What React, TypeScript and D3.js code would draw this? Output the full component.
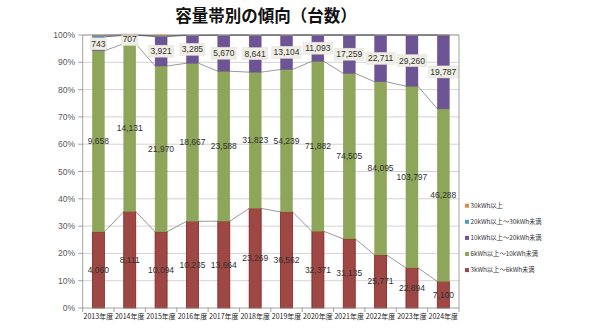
import React from "react";
import * as d3 from "d3";

const years = ["2013年度","2014年度","2015年度","2016年度","2017年度","2018年度","2019年度","2020年度","2021年度","2022年度","2023年度","2024年度"];
const s3to6 = [4060, 8111, 10094, 10235, 13664, 23269, 36562, 32371, 31135, 25771, 22894, 7100];
const s6to10 = [9658, 14131, 21970, 18667, 23588, 31823, 54239, 71882, 74505, 84095, 103797, 46288];
const s10to20 = [743, 707, 3921, 3285, 5670, 8641, 13104, 11093, 17259, 22711, 29260, 19787];
const s20to30 = [90, 20, 60, 40, 20, 30, 20, 15, 10, 10, 10, 5];
const s30plus = [10, 5, 120, 10, 10, 10, 10, 5, 5, 5, 5, 5];
const seriesNames = ["3kWh以上～6kWh未満", "6kWh以上～10kWh未満", "10kWh以上～20kWh未満", "20kWh以上～30kWh未満", "30kWh以上"];
const yTicks = [0, 10, 20, 30, 40, 50, 60, 70, 80, 90, 100];

const colors = ["#9e4846", "#8ea65a", "#6d5495", "#4a9fc0", "#e8883e"];
const strokes = ["#8a1f1a", "#7f9a4a", "#5d4585", "#3f8fae", "#d07830"];

export default function App() {
  const W = 590, H = 331;
  const left = 82.7, right = 459, top = 35, bottom = 308;
  const series = [s3to6, s6to10, s10to20, s20to30, s30plus];
  const x = d3.scaleBand<string>().domain(years).range([left, right]).paddingInner(0).paddingOuter(0);
  const y = d3.scaleLinear().domain([0, 100]).range([bottom, top]);
  const barW = 12;

  const rows = years.map((yr, i) => {
    const vals = series.map((s) => s[i]);
    const total = d3.sum(vals);
    let acc = 0;
    const segs = vals.map((v, k) => {
      const y0 = acc;
      acc += (v / total) * 100;
      return { k, v, y0, y1: acc };
    });
    return { yr, i, segs };
  });

  const fmt = d3.format(",");
  const labelFont = "'Liberation Sans', Arial, sans-serif";

  return (
    <svg width={W} height={H} style={{ position: "absolute", left: 0, top: 0, background: "#fff" }}>
      <text x={266} y={22} textAnchor="middle" fontFamily="'Noto Sans CJK JP', sans-serif" fontWeight="bold" fontSize={16.5} fill="#111">容量帯別の傾向（台数）</text>

      {yTicks.map((t) => (
        <g key={t}>
          {t > 0 && <line x1={left} x2={right} y1={y(t)} y2={y(t)} stroke="#c8c8c8" strokeWidth={0.8} />}
          <line x1={left - 4.5} x2={left} y1={y(t)} y2={y(t)} stroke="#8c8c8c" strokeWidth={0.8} />
          <text x={75} y={y(t) + 3} textAnchor="end" fontFamily={labelFont} fontSize={8.5} fill="#595959">{t}%</text>
        </g>
      ))}

      {/* series lines */}
      {[0, 1, 2, 3].map((k) => (
        <g key={"sl" + k}>
          {rows.slice(0, -1).map((r, i) => {
            const cx0 = (x(r.yr) as number) + x.bandwidth() / 2 + barW / 2;
            const nx = rows[i + 1];
            const cx1 = (x(nx.yr) as number) + x.bandwidth() / 2 - barW / 2;
            return <line key={i} x1={cx0} x2={cx1} y1={y(r.segs[k].y1)} y2={y(nx.segs[k].y1)} stroke={k >= 2 ? "#444" : "#808080"} strokeWidth={0.8} />;
          })}
        </g>
      ))}

      {rows.map((r) => {
        const cx = (x(r.yr) as number) + x.bandwidth() / 2;
        return (
          <g key={r.yr}>
            {r.segs.map((s) => (
              <rect key={s.k} x={cx - barW / 2} width={barW} y={y(s.y1)} height={Math.max(0, y(s.y0) - y(s.y1))} fill={colors[s.k]} stroke={strokes[s.k]} strokeWidth={s.k === 0 ? 0.8 : 0.4} />
            ))}
          </g>
        );
      })}

      {/* labels */}
      {rows.map((r) => {
        const cx = (x(r.yr) as number) + x.bandwidth() / 2;
        return (
          <g key={"lb" + r.yr} fontFamily={labelFont} fontSize={8.5} fill="#303030">
            {[0, 1].map((k) => {
              const s = r.segs[k];
              return <text key={k} x={cx} y={y((s.y0 + s.y1) / 2) + 3} textAnchor="middle">{fmt(s.v)}</text>;
            })}
            {(() => {
              const s = r.segs[2];
              const txt = fmt(s.v);
              const tw = txt.length * 4.4 + 3;
              const cy = y((s.y0 + s.y1) / 2);
              return (
                <g>
                  <rect x={cx - tw / 2} y={cy - 6} width={tw} height={12} fill="#efede4" stroke="#e2e0d6" strokeWidth={0.5} />
                  <text x={cx} y={cy + 3} textAnchor="middle">{txt}</text>
                </g>
              );
            })()}
          </g>
        );
      })}

      {/* axes */}
      <line x1={left} x2={right} y1={top} y2={top} stroke="#8c8c8c" strokeWidth={0.8} />
      <line x1={right} x2={right} y1={top} y2={bottom} stroke="#8c8c8c" strokeWidth={0.8} />
      <line x1={left} x2={left} y1={top} y2={bottom} stroke="#8c8c8c" strokeWidth={0.8} />
      <line x1={left} x2={right} y1={bottom} y2={bottom} stroke="#8c8c8c" strokeWidth={0.8} />
      {years.map((yr, i) => (
        <line key={"xt" + i} x1={(x(yr) as number)} x2={(x(yr) as number)} y1={bottom} y2={bottom + 4} stroke="#8c8c8c" strokeWidth={0.8} />
      ))}
      <line x1={right} x2={right} y1={bottom} y2={bottom + 4} stroke="#8c8c8c" strokeWidth={0.8} />
      {years.map((yr) => (
        <text key={"xl" + yr} x={(x(yr) as number) + x.bandwidth() / 2} y={319} textAnchor="middle" fontFamily="'Noto Sans CJK JP', sans-serif" fontSize={7} fill="#222">{yr}</text>
      ))}

      {/* legend */}
      {[4, 3, 2, 1, 0].map((k, j) => {
        const ly = 205.7 + j * 16.1;
        return (
          <g key={"lg" + k}>
            <rect x={465} y={ly - 2} width={4} height={4} fill={colors[k]} />
            <text x={470.5} y={ly + 2.3} fontFamily="'Noto Sans CJK JP', sans-serif" fontSize={6.3} fill="#333">{seriesNames[k]}</text>
          </g>
        );
      })}
    </svg>
  );
}
